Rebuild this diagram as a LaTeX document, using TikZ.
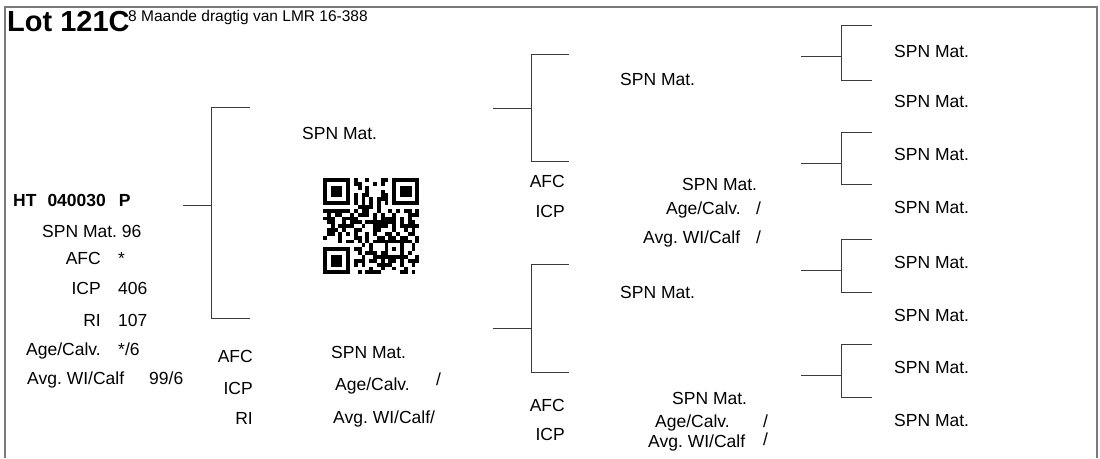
\documentclass[tikz,border=0pt]{standalone}
\usepackage{fontspec}
\setmainfont{Liberation Sans}
\usetikzlibrary{positioning,calc}
\frenchspacing
\definecolor{framegray}{HTML}{7A7A7A}
\definecolor{linegray}{HTML}{3A3A3A}
\tikzset{
  lbl/.style={anchor=base west, inner sep=0pt, font=\fontsize{17.5}{20}\selectfont},
  rlbl/.style={lbl, anchor=base east},
  pedline/.style={draw=linegray, line width=1.1pt},
}
\begin{document}
\begin{tikzpicture}[x=1pt,y=-1pt]
\useasboundingbox (0,0) rectangle (1100,458);
\draw[framegray, line width=1.6pt] (5,458) -- (5,7) -- (1097,7) -- (1097,458);
\node[lbl, font=\bfseries\fontsize{29}{30}\selectfont] (lot) at (7,31.5) {Lot 121C};
\node[lbl, font=\fontsize{15.5}{17}\selectfont] (note) at (128,21.7) {8 Maande dragtig van LMR 16-388};

\node[lbl, font=\bfseries\fontsize{17.5}{20}\selectfont] (ht) at (13,206) {HT\hspace{11pt}040030\hspace{13pt}P};
\node[lbl] (spn0) at (42,237) {SPN Mat. 96};
\node[rlbl] (afc0) at (101,264) {AFC};
\node[lbl] (afc0v) at (118,264) {*};
\node[rlbl] (icp0) at (101,294) {ICP};
\node[lbl] (icp0v) at (118,294) {406};
\node[rlbl] (ri0) at (101,326) {RI};
\node[lbl] (ri0v) at (118,326) {107};
\node[rlbl] (age0) at (101,355) {Age/Calv.};
\node[lbl] (age0v) at (118,355) {*/6};
\node[lbl] (avg0) at (27,384) {Avg. WI/Calf};
\node[lbl] (avg0v) at (149,384) {99/6};

\coordinate (g1stub) at (183,205.5);
\coordinate (g1fork) at (211.5,205.5);
\coordinate (g1top) at (250,107.5);
\coordinate (g1bot) at (250,318.5);
\draw[pedline] (g1stub) -- (g1fork);
\draw[pedline] (g1top) -- (g1top -| g1fork) -- (g1bot -| g1fork) -- (g1bot);

\node[lbl] (sire) at (302,139) {SPN Mat.};
\begin{scope}[shift={(323,178)}, x=3.85pt, y=-3.85pt]
\foreach \i in {0,...,24}{
  \foreach \j in {0,...,24}{
    \pgfmathtruncatemacro\qzone{(\i<8)*(\j<8)+(\i>16)*(\j<8)+(\i<8)*(\j>16)+(\i>15)*(\i<21)*(\j>15)*(\j<21)}
    \pgfmathtruncatemacro\qh{mod(\i*73+\j*151+\i*\j*13+7,101)}
    \pgfmathtruncatemacro\qg{mod(\qh*\qh+\j*11,97)}
    \pgfmathtruncatemacro\qbit{(\i==6||\j==6) ? (mod(\i+\j,2)==0) : (mod(\qg*37+\i*5,89)<44)}
    \ifnum\qzone=0 \ifnum\qbit=1 \fill (\i,\j) rectangle ++(1,1); \fi\fi
  }
}
\foreach \fx/\fy in {0/0,18/0,0/18}{
  \fill (\fx,\fy) rectangle ++(7,7);
  \fill[white] (\fx+1,\fy+1) rectangle ++(5,5);
  \fill (\fx+2,\fy+2) rectangle ++(3,3);
}
\fill (16,16) rectangle ++(5,5);
\fill[white] (17,17) rectangle ++(3,3);
\fill (18,18) rectangle ++(1,1);
\end{scope}

\node[rlbl] (afc1) at (253,362) {AFC};
\node[rlbl] (icp1) at (253,394) {ICP};
\node[rlbl] (ri1) at (253,424) {RI};
\node[lbl] (dam) at (331,358) {SPN Mat.};
\node[lbl] (age1) at (335,390) {Age/Calv.};
\node[lbl] (age1v) at (436,385) {/};
\node[lbl] (avg1) at (333,423) {Avg. WI/Calf/};

\coordinate (g2astub) at (493,108.5);
\coordinate (g2afork) at (531.5,108.5);
\coordinate (g2atop) at (569,54.5);
\coordinate (g2abot) at (569,161.5);
\draw[pedline] (g2astub) -- (g2afork);
\draw[pedline] (g2atop) -- (g2atop -| g2afork) -- (g2abot -| g2afork) -- (g2abot);
\coordinate (g2bstub) at (493,328.5);
\coordinate (g2bfork) at (531.5,328.5);
\coordinate (g2btop) at (569,264.5);
\coordinate (g2bbot) at (569,372.5);
\draw[pedline] (g2bstub) -- (g2bfork);
\draw[pedline] (g2btop) -- (g2btop -| g2bfork) -- (g2bbot -| g2bfork) -- (g2bbot);

\node[lbl] (ss) at (620,85) {SPN Mat.};
\node[rlbl] (afc2) at (565,187) {AFC};
\node[rlbl] (icp2) at (565,217) {ICP};
\node[lbl] (sd) at (682,190) {SPN Mat.};
\node[lbl] (age2) at (666,214) {Age/Calv.};
\node[lbl] (age2v) at (756,214) {/};
\node[lbl] (avg2) at (643,243) {Avg. WI/Calf};
\node[lbl] (avg2v) at (756,243) {/};

\node[lbl] (ds) at (620,298) {SPN Mat.};
\node[rlbl] (afc3) at (565,411) {AFC};
\node[rlbl] (icp3) at (565,440) {ICP};
\node[lbl] (dd) at (672,404) {SPN Mat.};
\node[lbl] (age3) at (655,427) {Age/Calv.};
\node[lbl] (age3v) at (763,427) {/};
\node[lbl] (avg3) at (648,447) {Avg. WI/Calf};
\node[lbl] (avg3v) at (763,445) {/};

\foreach \n/\t/\m/\b in {a/25.5/56.5/80.5, b/132.5/163.5/184.5, c/239.5/270.5/292.5, d/344.5/375.5/397.5}{
  \coordinate (g3\n stub) at (801,\m);
  \coordinate (g3\n fork) at (841.5,\m);
  \coordinate (g3\n top) at (872,\t);
  \coordinate (g3\n bot) at (872,\b);
  \draw[pedline] (g3\n stub) -- (g3\n fork);
  \draw[pedline] (g3\n top) -- (g3\n top -| g3\n fork) -- (g3\n bot -| g3\n fork) -- (g3\n bot);
}
\foreach \k/\y in {1/57,2/107,3/160,4/213,5/268,6/321,7/373,8/426}
  \node[lbl] (gg\k) at (894,\y) {SPN Mat.};
\end{tikzpicture}
\end{document}
